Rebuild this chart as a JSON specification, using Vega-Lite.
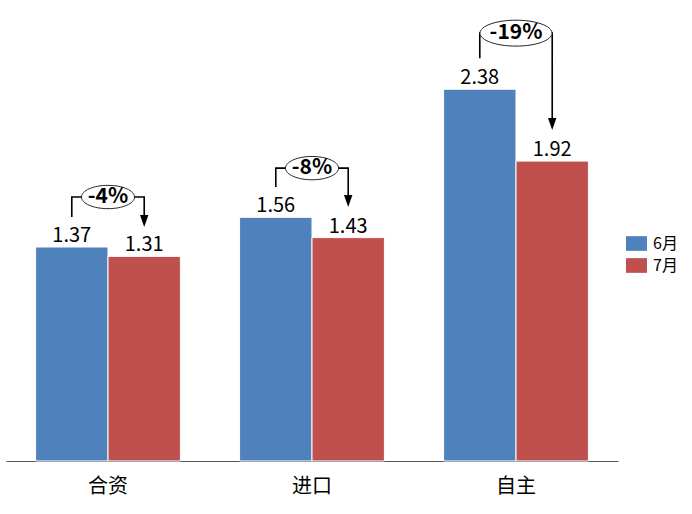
{
  "$schema": "https://vega.github.io/schema/vega-lite/v6.json",
  "width": 612,
  "height": 453,
  "autosize": {"type": "none"},
  "padding": {"left": 6, "top": 8, "right": 74, "bottom": 53},
  "config": {
    "view": {"stroke": null},
    "font": "Noto Sans CJK SC",
    "text": {"font": "Noto Sans CJK SC"}
  },
  "datasets": {
    "bars": [
      {"cat": "合资", "month": "6月", "value": 1.37},
      {"cat": "合资", "month": "7月", "value": 1.31},
      {"cat": "进口", "month": "6月", "value": 1.56},
      {"cat": "进口", "month": "7月", "value": 1.43},
      {"cat": "自主", "month": "6月", "value": 2.38},
      {"cat": "自主", "month": "7月", "value": 1.92}
    ],
    "bracket": [
      {"cat": "合资", "month": "6月", "pos": 1, "v": 1.562},
      {"cat": "合资", "month": "6月", "pos": 2, "v": 1.69},
      {"cat": "合资", "month": "7月", "pos": 3, "v": 1.69},
      {"cat": "合资", "month": "7月", "pos": 4, "v": 1.56},
      {"cat": "进口", "month": "6月", "pos": 1, "v": 1.754},
      {"cat": "进口", "month": "6月", "pos": 2, "v": 1.875},
      {"cat": "进口", "month": "7月", "pos": 3, "v": 1.875},
      {"cat": "进口", "month": "7月", "pos": 4, "v": 1.69},
      {"cat": "自主", "month": "6月", "pos": 1, "v": 2.579},
      {"cat": "自主", "month": "6月", "pos": 2, "v": 2.739},
      {"cat": "自主", "month": "7月", "pos": 3, "v": 2.739},
      {"cat": "自主", "month": "7月", "pos": 4, "v": 2.18}
    ],
    "arrows": [
      {"cat": "合资", "month": "7月", "v": 1.536},
      {"cat": "进口", "month": "7月", "v": 1.664},
      {"cat": "自主", "month": "7月", "v": 2.157}
    ],
    "pct": [
      {"cat": "合资", "label": "-4%", "v": 1.69},
      {"cat": "进口", "label": "-8%", "v": 1.875},
      {"cat": "自主", "label": "-19%", "v": 2.739}
    ]
  },
  "layer": [
    {
      "data": {"name": "bars"},
      "mark": {"type": "bar", "stroke": "white", "strokeWidth": 1},
      "encoding": {
        "x": {
          "field": "cat", "type": "nominal", "sort": ["合资", "进口", "自主"],
          "scale": {"paddingInner": 0.29, "paddingOuter": 0.145},
          "axis": {"title": null, "labelAngle": 0, "ticks": false, "tickSize": 0, "labelFontSize": 20, "labelColor": "#000", "labelPadding": 15, "domainColor": "#555", "domainWidth": 1.2, "labelFont": "Noto Sans CJK SC"}
        },
        "xOffset": {"field": "month", "type": "nominal", "sort": ["6月", "7月"], "scale": {"paddingInner": 0, "paddingOuter": 0}},
        "y": {"field": "value", "type": "quantitative", "scale": {"domain": [0, 2.9], "nice": false, "zero": true}, "axis": null},
        "color": {
          "field": "month", "type": "nominal",
          "scale": {"domain": ["6月", "7月"], "range": ["#4F81BD", "#C0504D"]},
          "legend": {
            "title": null, "orient": "none", "legendX": 620, "legendY": 225,
            "symbolType": "M-1,-0.7H1V0.7H-1Z", "symbolSize": 441, "symbolStrokeWidth": 0,
            "labelFontSize": 16, "labelColor": "#000", "labelFont": "Noto Sans CJK SC",
            "rowPadding": 3, "labelOffset": 6, "padding": 0
          }
        }
      }
    },
    {
      "data": {"name": "bars"},
      "mark": {"type": "text", "baseline": "alphabetic", "dy": -5, "fontSize": 20, "color": "#000"},
      "encoding": {
        "x": {"field": "cat", "type": "nominal", "sort": ["合资", "进口", "自主"]},
        "xOffset": {"field": "month", "type": "nominal", "sort": ["6月", "7月"]},
        "y": {"field": "value", "type": "quantitative", "axis": null},
        "text": {"field": "value", "type": "quantitative", "format": ".2f"}
      }
    },
    {
      "data": {"name": "bracket"},
      "mark": {"type": "line", "color": "#000", "strokeWidth": 1.6},
      "encoding": {
        "x": {"field": "cat", "type": "nominal", "sort": ["合资", "进口", "自主"]},
        "xOffset": {"field": "month", "type": "nominal", "sort": ["6月", "7月"]},
        "y": {"field": "v", "type": "quantitative", "axis": null},
        "detail": {"field": "cat"},
        "order": {"field": "pos", "type": "quantitative"}
      }
    },
    {
      "data": {"name": "arrows"},
      "mark": {"type": "point", "shape": "M-0.42,-0.6L0.42,-0.6L0,0.6Z", "size": 400, "filled": true, "color": "#000", "opacity": 1},
      "encoding": {
        "x": {"field": "cat", "type": "nominal", "sort": ["合资", "进口", "自主"]},
        "xOffset": {"field": "month", "type": "nominal", "sort": ["6月", "7月"]},
        "y": {"field": "v", "type": "quantitative", "axis": null}
      }
    },
    {
      "data": {"name": "pct"},
      "mark": {"type": "point", "filled": true, "fill": "white", "stroke": "#222", "strokeWidth": 1, "opacity": 1},
      "encoding": {
        "x": {"field": "cat", "type": "nominal", "sort": ["合资", "进口", "自主"]},
        "y": {"field": "v", "type": "quantitative", "axis": null},
        "shape": {
          "field": "cat", "type": "nominal", "legend": null,
          "scale": {"domain": ["合资", "进口", "自主"], "range": ["M-1,0A1,0.44 0 1,1 1,0A1,0.44 0 1,1 -1,0Z", "M-1,0A1,0.44 0 1,1 1,0A1,0.44 0 1,1 -1,0Z", "M-1,0A1,0.36 0 1,1 1,0A1,0.36 0 1,1 -1,0Z"]}
        },
        "size": {
          "field": "cat", "type": "ordinal", "legend": null,
          "scale": {"type": "ordinal", "domain": ["合资", "进口", "自主"], "range": [2809, 2809, 5184]}
        }
      }
    },
    {
      "data": {"name": "pct"},
      "mark": {"type": "text", "baseline": "middle", "fontSize": 21, "fontWeight": "bold", "color": "#000", "dy": 0},
      "encoding": {
        "x": {"field": "cat", "type": "nominal", "sort": ["合资", "进口", "自主"]},
        "y": {"field": "v", "type": "quantitative", "axis": null},
        "text": {"field": "label"}
      }
    }
  ]
}
